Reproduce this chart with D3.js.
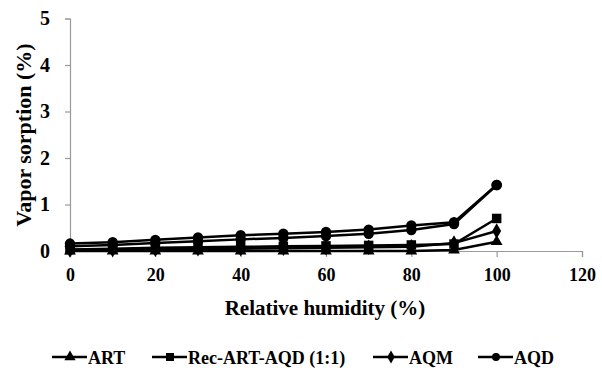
<!DOCTYPE html>
<html><head><meta charset="utf-8">
<script src="https://cdn.jsdelivr.net/npm/d3@7"></script>
<style>body{margin:0;background:#fff}svg{display:block}</style>
</head><body><svg id="c" width="602" height="368"></svg>
<script>
const humidity = [0,10,20,30,40,50,60,70,80,90,100];
const seriesNames = ["ART","Rec-ART-AQD (1:1)","AQM","AQD"];
const artValues = [0,0,0,0,0,0,0,0,0,0.02,0.2];
const recValues = [0.03,0.05,0.07,0.08,0.09,0.10,0.11,0.12,0.13,0.15,0.70];
const aqmValues = [0.02,0.03,0.04,0.05,0.05,0.06,0.07,0.08,0.09,0.17,0.43];
const aqdValues = [0.16,0.19,0.24,0.29,0.34,0.37,0.41,0.46,0.55,0.62,1.42];
const aqdRepeatValues = [0.10,0.13,0.17,0.21,0.25,0.28,0.32,0.37,0.45,0.58,1.42];
const xTicks = [0,20,40,60,80,100,120];
const yTicks = [0,1,2,3,4,5];

const FONT = "Liberation Serif";
const svg = d3.select("#c");
const x = d3.scaleLinear().domain([0,120]).range([70,582]);
const y = d3.scaleLinear().domain([0,5]).range([251,18.5]);

const xAx = svg.append("g").attr("transform","translate(0,251)")
  .call(d3.axisBottom(x).tickValues(xTicks).tickFormat(d3.format("d")).tickSize(6).tickPadding(11));
const yAx = svg.append("g").attr("transform","translate(70,0)")
  .call(d3.axisLeft(y).tickValues(yTicks).tickFormat(d3.format("d")).tickSize(5).tickPadding(15));
[xAx,yAx].forEach(g=>{
  g.attr("font-family",FONT).attr("font-weight","bold");
  g.select(".domain").attr("stroke","#999").attr("stroke-width",1.2);
  g.selectAll(".tick line").attr("stroke","#999").attr("stroke-width",1.2);
  g.selectAll("text").attr("font-size",18).attr("fill","#000");
});
yAx.selectAll("text").attr("font-size",20);

svg.append("text").attr("transform","translate(31,135) rotate(-90)").attr("text-anchor","middle")
  .attr("font-family",FONT).attr("font-weight","bold")
  .attr("font-size",22).text("Vapor  sorption (%)");
svg.append("text").attr("x",325).attr("y",315).attr("text-anchor","middle")
  .attr("font-family",FONT).attr("font-weight","bold")
  .attr("font-size",21).text("Relative humidity (%)");

const sym = {
  tri: d3.symbol().type(d3.symbolTriangle).size(60),
  sq: d3.symbol().type(d3.symbolSquare).size(90),
  dia: d3.symbol().type(d3.symbolDiamond).size(70),
  cir: d3.symbol().type(d3.symbolCircle).size(85)
};
const series = [
  {vals: artValues, m: "tri"},
  {vals: recValues, m: "sq"},
  {vals: aqmValues, m: "dia"},
  {vals: aqdRepeatValues, m: "cir"},
  {vals: aqdValues, m: "cir"}
];
const line = d3.line().x((d,i)=>x(humidity[i])).y(d=>y(d));
series.forEach(s=>{
  svg.append("path").datum(s.vals).attr("d",line).attr("fill","none").attr("stroke","#000").attr("stroke-width",2.5);
  svg.selectAll(null).data(s.vals).enter().append("path")
    .attr("transform",(d,i)=>`translate(${x(humidity[i])},${y(d)})`)
    .attr("d",sym[s.m]()).attr("fill","#000");
});

const legItems = [
  {name: seriesNames[0], m:"tri", x0:52},
  {name: seriesNames[1], m:"sq", x0:152},
  {name: seriesNames[2], m:"dia", x0:373},
  {name: seriesNames[3], m:"cir", x0:478}
];
const ly = 357;
legItems.forEach(it=>{
  const g = svg.append("g");
  g.append("line").attr("x1",it.x0).attr("x2",it.x0+35).attr("y1",ly).attr("y2",ly).attr("stroke","#000").attr("stroke-width",2.5);
  const sz = {tri:55,sq:65,dia:50,cir:50}[it.m];
  g.append("path").attr("transform",`translate(${it.x0+18},${ly})`).attr("d",d3.symbol().type({tri:d3.symbolTriangle,sq:d3.symbolSquare,dia:d3.symbolDiamond,cir:d3.symbolCircle}[it.m]).size(sz)()).attr("fill","#000");
  g.append("text").attr("x",it.x0+36).attr("y",ly+6.5)
    .attr("font-family",FONT).attr("font-weight","bold").attr("font-size",18).text(it.name);
});
</script></body></html>
